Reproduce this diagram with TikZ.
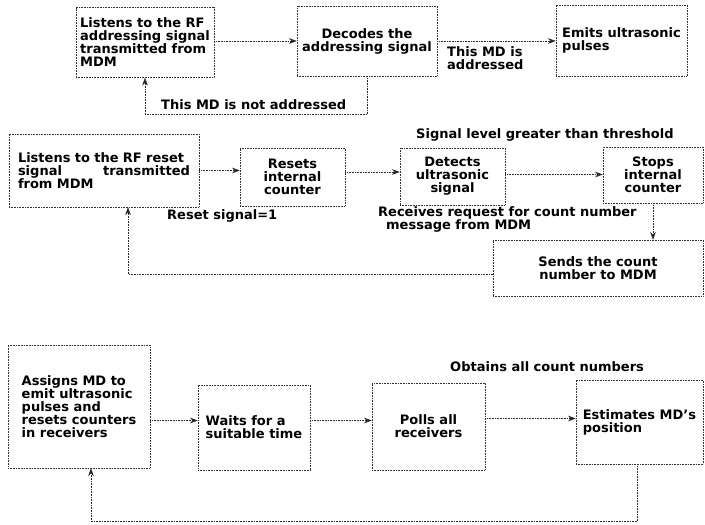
\documentclass[tikz,border=0pt]{standalone}
\usepackage{fontspec}
\setmainfont{DejaVu Sans}
\usepackage{tikz}
\usetikzlibrary{arrows.meta,positioning}
\newcommand{\lblfont}{\fontsize{13}{13}\selectfont\bfseries}

\begin{document}
\begin{tikzpicture}[x=1pt, y=-1pt,
  box/.style={rectangle, draw=black!80, densely dotted, line width=0.6pt,
              inner sep=3pt, font=\lblfont, align=center},
  lbox/.style={box, align=left},
  note/.style={font=\lblfont, inner sep=0pt, align=left, anchor=west},
  arr/.style={-{Stealth[length=2.7mm, width=2mm]}, densely dotted,
              line width=0.6pt, color=black!85}
]
\useasboundingbox (0,0) rectangle (705,525);

% addressing stage
\node[lbox, minimum width=138, minimum height=70] (listen) at (145,42.5)
  {Listens to the RF\\addressing signal\\transmitted from\\MDM};
\node[box, minimum width=140, minimum height=70] (decode) at (367,41)
  {Decodes the\\addressing signal};
\node[lbox, minimum width=131, minimum height=71] (emit) at (621.5,40.5)
  {Emits ultrasonic\\pulses};

\draw[arr] (listen.east |- decode.west) -- (decode.west);
\draw[arr] (decode.east) -- (decode.east -| emit.west);
\draw[arr] (decode.south) -- ++(0,38) -| (listen.south);
\node[note] (addressed) at (447,58) {This MD is\\addressed};
\node[note] (notaddr) at (161,105) {This MD is not addressed};

% receiver stage
\node[lbox, minimum width=190, minimum height=73, text width=172] (listenreset) at (104,170.5)
  {Listens to the RF reset\\signal\hfill transmitted\\from MDM};
\node[box, minimum width=105, minimum height=58] (resets) at (292.5,177)
  {Resets\\internal\\counter};
\node[box, minimum width=105, minimum height=57] (detect) at (452.5,176.5)
  {Detects\\ultrasonic\\signal};
\node[box, minimum width=100, minimum height=56] (stops) at (653,175)
  {Stops\\internal\\counter};
\node[box, minimum width=210, minimum height=56] (sends) at (598,268)
  {Sends the count\\number to MDM};

\draw[arr] (listenreset.east) -- (listenreset.east -| resets.west);
\draw[arr] ([yshift=5pt]resets.east) -- ([yshift=5pt]resets.east -| detect.west);
\draw[arr] ([yshift=2pt]detect.east) -- ([yshift=2pt]detect.east -| stops.west);
\draw[arr] (stops.south) -- (stops.south |- sends.north);
\draw[arr] ([yshift=-6pt]sends.west) -| ([xshift=24pt]listenreset.south);
\node[note] (threshold) at (416,135) {Signal level greater than threshold};
\node[note] (resetone) at (167,216) {Reset signal=1};
\node[note] (request) at (378,219) {Receives request for count number\\\hspace*{8pt}message from MDM};

% MDM stage
\node[lbox, minimum width=142, minimum height=123] (assign) at (79,406.5)
  {Assigns MD to\\emit ultrasonic\\pulses and\\resets counters\\in receivers};
\node[lbox, minimum width=112, minimum height=85] (wait) at (254,427.5)
  {Waits for a\\suitable time};
\node[box, minimum width=113, minimum height=87] (poll) at (428.5,426.5)
  {Polls all\\receivers};
\node[lbox, minimum width=127, minimum height=84] (estimate) at (639.5,422)
  {Estimates MD's\\position};

\draw[arr] ([yshift=7pt]wait.west -| assign.east) -- ([yshift=7pt]wait.west);
\draw[arr] ([yshift=7pt]wait.east) -- ([yshift=7pt]wait.east -| poll.west);
\draw[arr] ([yshift=8pt]poll.east) -- ([yshift=8pt]poll.east -| estimate.west);
\draw[arr] ([xshift=-2pt]estimate.south) -- ++(0,57) -| ([xshift=12pt]assign.south);
\node[note] (obtains) at (450,367) {Obtains all count numbers};
\end{tikzpicture}
\end{document}
